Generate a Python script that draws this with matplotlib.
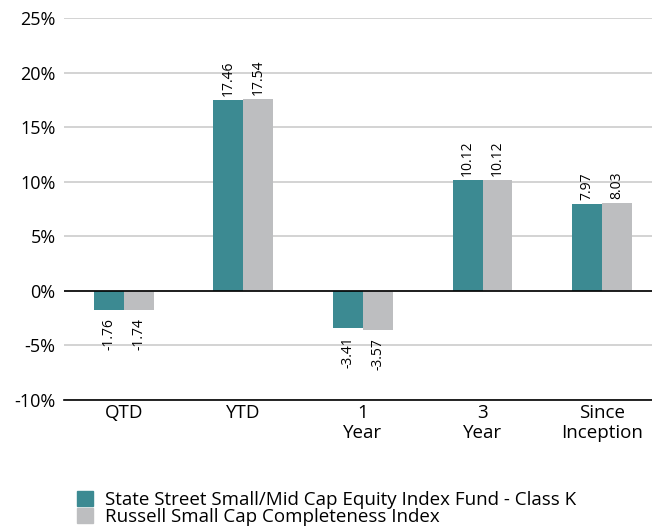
import matplotlib
matplotlib.use("Agg")
import matplotlib.pyplot as plt
import numpy as np

categories = ["QTD", "YTD", "1\nYear", "3\nYear", "Since\nInception"]
fund = [-1.76, 17.46, -3.41, 10.12, 7.97]
index = [-1.74, 17.54, -3.57, 10.12, 8.03]
series_names = ["State Street Small/Mid Cap Equity Index Fund - Class K",
                "Russell Small Cap Completeness Index"]
yticks = [-10, -5, 0, 5, 10, 15, 20, 25]

plt.rcParams['font.family'] = ['Open Sans', 'DejaVu Sans']
teal = "#3c8a92"
gray = "#bdbec0"

fig = plt.figure(figsize=(6.52, 5.29), dpi=100)
ax = fig.add_axes([64/652, 1-400/529, 1-64/652, (400-18)/529])

x = np.arange(len(categories))
w = 0.25
b1 = ax.bar(x - w/2, fund, w, color=teal, zorder=3)
b2 = ax.bar(x + w/2, index, w, color=gray, zorder=3)

for bars, vals in ((b1, fund), (b2, index)):
    for rect, v in zip(bars, vals):
        cx = rect.get_x() + rect.get_width()/2
        if v >= 0:
            ax.annotate(f"{v:.2f}", (cx, v), xytext=(0, 3), textcoords="offset points",
                        rotation=90, ha="center", va="bottom", fontsize=10)
        else:
            ax.annotate(f"{v:.2f}", (cx, v), xytext=(0, -6), textcoords="offset points",
                        rotation=90, ha="center", va="top", fontsize=10)

ax.set_ylim(-10, 25)
ax.set_xlim(-0.5, 4.5 - 10/120)
ax.set_yticks(yticks)
ax.set_yticklabels([f"{t}%" for t in yticks], fontsize=13)
ax.set_xticks(x)
ax.set_xticklabels(categories, fontsize=13.5, linespacing=1.1)
ax.tick_params(length=0, pad=6)
ax.tick_params(axis='x', pad=3)
for s in ["top", "right", "left"]:
    ax.spines[s].set_visible(False)
ax.spines["bottom"].set_color("black")
ax.spines["bottom"].set_linewidth(1.2)
ax.yaxis.grid(True, color="#cccccc", linewidth=1.2, zorder=0)
ax.axhline(0, color="black", linewidth=1.2, zorder=4)

from matplotlib.patches import Patch
handles = [Patch(color=teal), Patch(color=gray)]
fig.legend(handles, series_names, loc="upper left", bbox_to_anchor=(77/652, 1-491/529),
           frameon=False, fontsize=13.5, handlelength=0.85, handleheight=0.85,
           handletextpad=0.65, labelspacing=-0.05, borderaxespad=0, borderpad=0)

fig.savefig("out.png", dpi=100)
